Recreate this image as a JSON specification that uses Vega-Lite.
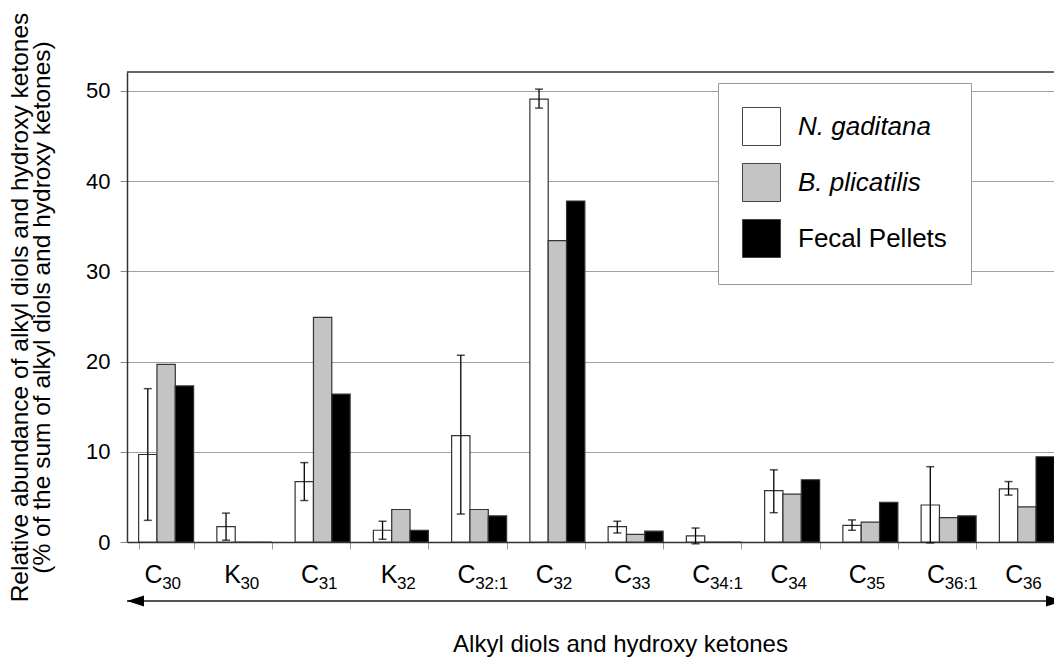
{
  "$schema": "https://vega.github.io/schema/vega-lite/v6.json",
  "width": 927,
  "height": 470,
  "autosize": "none",
  "padding": {"left": 127, "top": 72, "right": 0, "bottom": 115},
  "background": "white",
  "config": {
    "font": "Liberation Sans",
    "view": {"stroke": null},
    "axis": {"labelColor": "black", "titleColor": "black", "titleFontWeight": "normal"}
  },
  "layer": [
    {
      "data": {
        "values": [
          {"compound": "C30", "series": "N. gaditana", "value": 9.7, "lo": 2.4, "hi": 17.0},
          {"compound": "C30", "series": "B. plicatilis", "value": 19.7},
          {"compound": "C30", "series": "Fecal Pellets", "value": 17.3},
          {"compound": "K30", "series": "N. gaditana", "value": 1.7, "lo": 0.2, "hi": 3.2},
          {"compound": "K30", "series": "B. plicatilis", "value": 0},
          {"compound": "K30", "series": "Fecal Pellets", "value": 0},
          {"compound": "C31", "series": "N. gaditana", "value": 6.7, "lo": 4.6, "hi": 8.8},
          {"compound": "C31", "series": "B. plicatilis", "value": 24.9},
          {"compound": "C31", "series": "Fecal Pellets", "value": 16.4},
          {"compound": "K32", "series": "N. gaditana", "value": 1.3, "lo": 0.3, "hi": 2.3},
          {"compound": "K32", "series": "B. plicatilis", "value": 3.6},
          {"compound": "K32", "series": "Fecal Pellets", "value": 1.3},
          {"compound": "C32:1", "series": "N. gaditana", "value": 11.8, "lo": 3.1, "hi": 20.7},
          {"compound": "C32:1", "series": "B. plicatilis", "value": 3.6},
          {"compound": "C32:1", "series": "Fecal Pellets", "value": 2.9},
          {"compound": "C32", "series": "N. gaditana", "value": 49.1, "lo": 48.1, "hi": 50.2},
          {"compound": "C32", "series": "B. plicatilis", "value": 33.4},
          {"compound": "C32", "series": "Fecal Pellets", "value": 37.8},
          {"compound": "C33", "series": "N. gaditana", "value": 1.7, "lo": 1.0, "hi": 2.3},
          {"compound": "C33", "series": "B. plicatilis", "value": 0.85},
          {"compound": "C33", "series": "Fecal Pellets", "value": 1.2},
          {"compound": "C34:1", "series": "N. gaditana", "value": 0.67, "lo": -0.2, "hi": 1.55},
          {"compound": "C34:1", "series": "B. plicatilis", "value": 0},
          {"compound": "C34:1", "series": "Fecal Pellets", "value": 0},
          {"compound": "C34", "series": "N. gaditana", "value": 5.7, "lo": 3.25, "hi": 8.0},
          {"compound": "C34", "series": "B. plicatilis", "value": 5.3},
          {"compound": "C34", "series": "Fecal Pellets", "value": 6.9},
          {"compound": "C35", "series": "N. gaditana", "value": 1.85, "lo": 1.3, "hi": 2.45},
          {"compound": "C35", "series": "B. plicatilis", "value": 2.2},
          {"compound": "C35", "series": "Fecal Pellets", "value": 4.4},
          {"compound": "C36:1", "series": "N. gaditana", "value": 4.1, "lo": -0.1, "hi": 8.35},
          {"compound": "C36:1", "series": "B. plicatilis", "value": 2.7},
          {"compound": "C36:1", "series": "Fecal Pellets", "value": 2.9},
          {"compound": "C36", "series": "N. gaditana", "value": 5.9, "lo": 5.2, "hi": 6.7},
          {"compound": "C36", "series": "B. plicatilis", "value": 3.9},
          {"compound": "C36", "series": "Fecal Pellets", "value": 9.45}
        ]
      },
      "layer": [
        {
          "mark": {"type": "bar", "stroke": "#333", "strokeWidth": 1.2},
          "encoding": {
            "x": {
              "field": "compound", "type": "nominal", "sort": null,
              "scale": {"range": [0, 939], "paddingInner": 0.297, "paddingOuter": 0.1485},
              "axis": {
                "orient": "bottom",
                "labelExpr": "substring(datum.label, 0, 1)",
                "labelAngle": 0,
                "labelAlign": "right",
                "labelBaseline": "alphabetic",
                "labelOffset": -4,
                "labelPadding": 33,
                "labelFontSize": 25,
                "tickBand": "extent",
                "tickSize": 7,
                "tickColor": "#999",
                "domainColor": "#333",
                "domainWidth": 1.5,
                "title": "Alkyl diols and hydroxy ketones",
                "titleFontSize": 24,
                "titleX": 493,
                "titleY": 109,
                "titleBaseline": "alphabetic"
              }
            },
            "xOffset": {
              "field": "series", "type": "nominal",
              "scale": {"domain": ["N. gaditana", "B. plicatilis", "Fecal Pellets"], "paddingInner": 0, "paddingOuter": 0}
            },
            "y": {
              "field": "value", "type": "quantitative",
              "scale": {"domain": [0, 52.1], "nice": false},
              "title": ["Relative abundance of alkyl diols and hydroxy ketones", "(% of the sum of alkyl diols and hydroxy ketones)"],
              "axis": {
                "values": [0, 10, 20, 30, 40, 50],
                "labelFontSize": 22,
                "labelPadding": 10,
                "tickSize": 7,
                "tickColor": "#888",
                "domainColor": "#333",
                "domainWidth": 1.5,
                "gridColor": "#a0a0a0",
                "gridWidth": 1,
                "titleFontSize": 24.5,
                "titleLineHeight": 22.5,
                "titlePadding": 31
              }
            },
            "color": {
              "field": "series", "type": "nominal",
              "scale": {"domain": ["N. gaditana", "B. plicatilis", "Fecal Pellets"], "range": ["#ffffff", "#c4c4c4", "#000000"]},
              "legend": {
                "orient": "none",
                "legendX": 591,
                "legendY": 11,
                "title": null,
                "fillColor": "white",
                "strokeColor": "#999",
                "padding": 24,
                "symbolType": "square",
                "symbolSize": 1444,
                "symbolStrokeColor": "#444",
                "symbolStrokeWidth": 1,
                "labelFontSize": 26,
                "labelColor": "black",
                "labelOffset": 17,
                "labelLimit": 400,
                "rowPadding": 13,
                "encode": {
                  "labels": {"update": {"fontStyle": {"signal": "datum.value === 'Fecal Pellets' ? 'normal' : 'italic'"}}},
                  "symbols": {"update": {"stroke": {"value": "#444"}, "strokeWidth": {"value": 1}}}
                }
              }
            }
          }
        },
        {
          "mark": {"type": "rule", "color": "black", "strokeWidth": 1.3},
          "encoding": {
            "x": {
              "field": "compound", "type": "nominal", "sort": null,
              "axis": {
                "orient": "bottom",
                "labelExpr": "substring(datum.label, 1)",
                "labelAngle": 0,
                "labelAlign": "left",
                "labelBaseline": "alphabetic",
                "labelOffset": -4,
                "labelPadding": 46,
                "labelFontSize": 17,
                "ticks": false,
                "domain": false,
                "grid": false,
                "title": null
              }
            },
            "xOffset": {"field": "series", "type": "nominal"},
            "y": {"field": "lo", "type": "quantitative", "title": ["Relative abundance of alkyl diols and hydroxy ketones", "(% of the sum of alkyl diols and hydroxy ketones)"]},
            "y2": {"field": "hi"}
          }
        },
        {
          "mark": {"type": "tick", "color": "black", "thickness": 1.5, "size": 8},
          "encoding": {
            "x": {"field": "compound", "type": "nominal", "sort": null, "axis": null},
            "xOffset": {"field": "series", "type": "nominal"},
            "y": {"field": "lo", "type": "quantitative", "title": ["Relative abundance of alkyl diols and hydroxy ketones", "(% of the sum of alkyl diols and hydroxy ketones)"]}
          }
        },
        {
          "mark": {"type": "tick", "color": "black", "thickness": 1.5, "size": 8},
          "encoding": {
            "x": {"field": "compound", "type": "nominal", "sort": null, "axis": null},
            "xOffset": {"field": "series", "type": "nominal"},
            "y": {"field": "hi", "type": "quantitative", "title": ["Relative abundance of alkyl diols and hydroxy ketones", "(% of the sum of alkyl diols and hydroxy ketones)"]}
          }
        }
      ],
      "resolve": {"axis": {"x": "independent"}}
    },
    {
      "data": {"values": [{}]},
      "layer": [
        {
          "mark": {"type": "rule", "color": "#333", "strokeWidth": 1.5},
          "encoding": {
            "y": {"datum": 52.1, "type": "quantitative", "scale": {"domain": [0, 52.1], "nice": false}, "title": ["Relative abundance of alkyl diols and hydroxy ketones", "(% of the sum of alkyl diols and hydroxy ketones)"]}
          }
        },
        {
          "mark": {"type": "rule", "color": "#555", "strokeWidth": 2},
          "encoding": {
            "x": {"datum": 0, "type": "quantitative", "scale": {"domain": [0, 1], "range": [0, 936]}, "axis": null},
            "x2": {"datum": 1},
            "y": {"datum": -6.54, "type": "quantitative", "title": ["Relative abundance of alkyl diols and hydroxy ketones", "(% of the sum of alkyl diols and hydroxy ketones)"]}
          }
        },
        {
          "mark": {"type": "point", "shape": "M0,0L2,-0.65L2,0.65Z", "size": 289, "filled": true, "color": "black", "opacity": 1, "strokeWidth": 0},
          "encoding": {
            "x": {"datum": 0, "type": "quantitative", "axis": null},
            "y": {"datum": -6.54, "type": "quantitative", "title": ["Relative abundance of alkyl diols and hydroxy ketones", "(% of the sum of alkyl diols and hydroxy ketones)"]}
          }
        },
        {
          "mark": {"type": "point", "shape": "M0,0L-2,-0.65L-2,0.65Z", "size": 289, "filled": true, "color": "black", "opacity": 1, "strokeWidth": 0},
          "encoding": {
            "x": {"datum": 1, "type": "quantitative", "axis": null},
            "y": {"datum": -6.54, "type": "quantitative", "title": ["Relative abundance of alkyl diols and hydroxy ketones", "(% of the sum of alkyl diols and hydroxy ketones)"]}
          }
        }
      ]
    }
  ],
  "resolve": {"scale": {"x": "independent"}}
}
